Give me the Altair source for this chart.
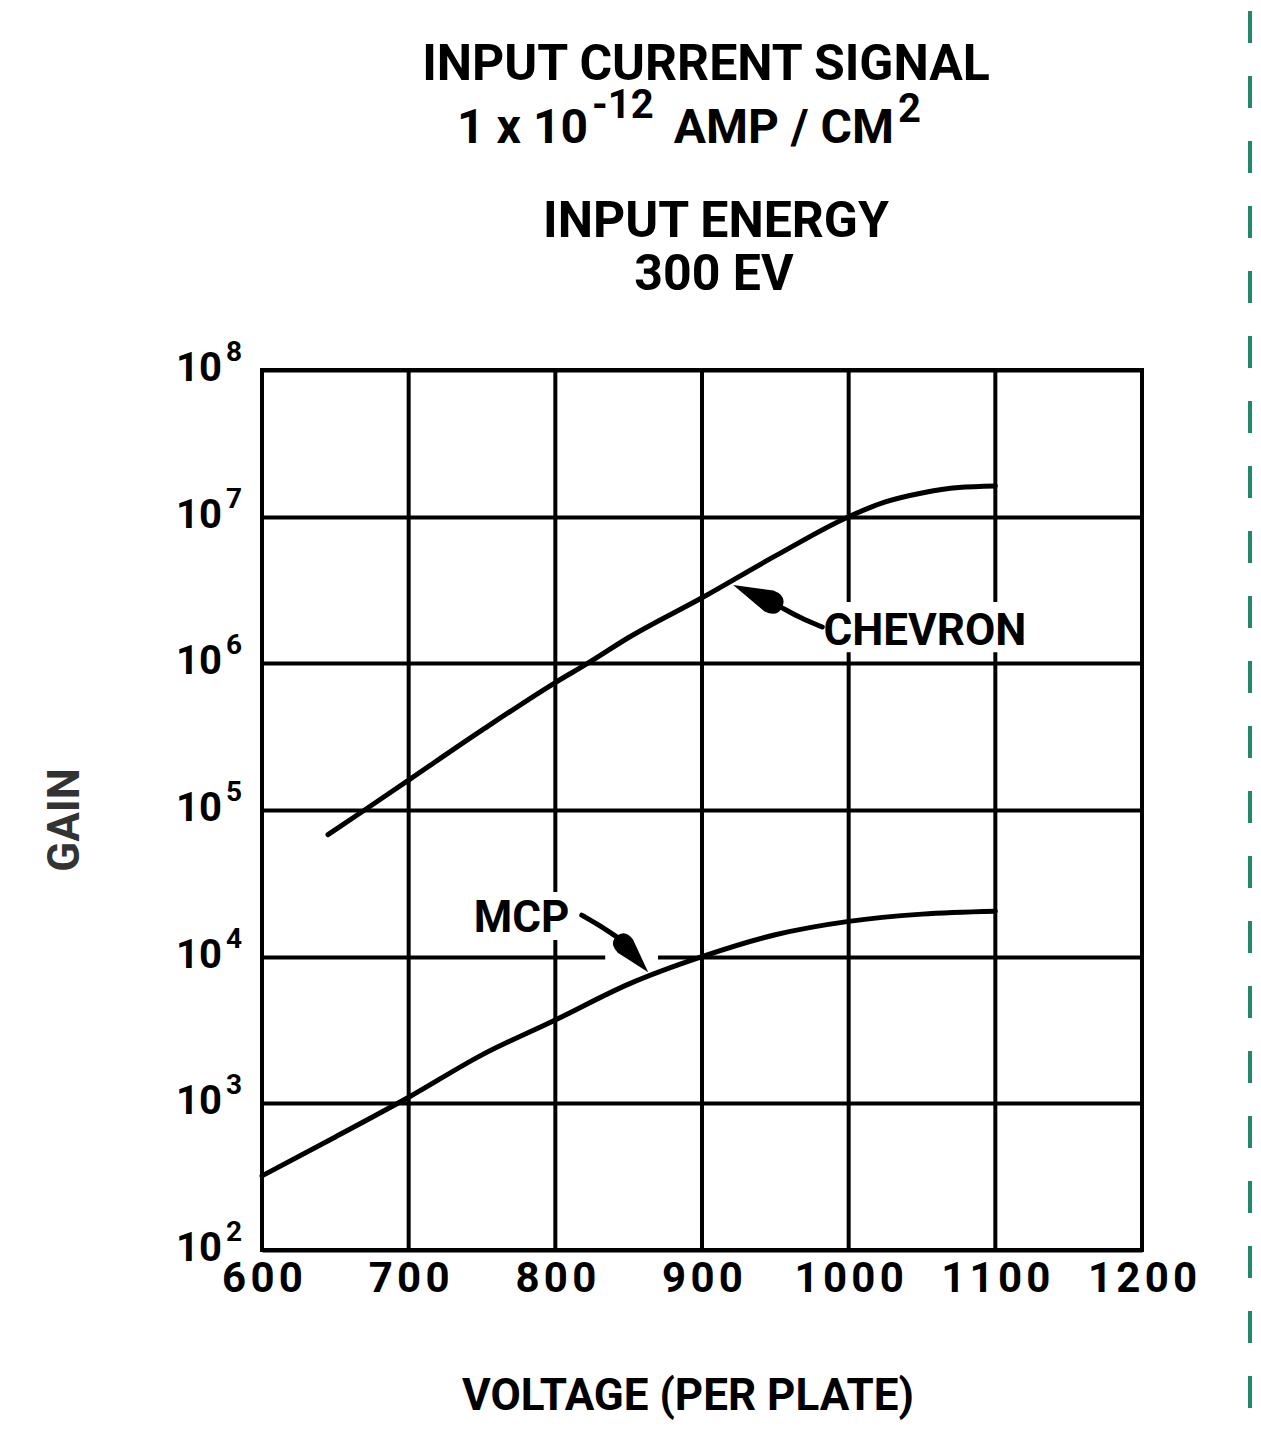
import altair as alt
import pandas as pd

# ---- data ----
chev_v = [645, 670, 700, 750, 800, 822, 850, 900, 950, 1000, 1025, 1050, 1075, 1100]
chev_g = [6.8e4, 1.0e5, 1.6e5, 3.5e5, 7.4e5, 1.0e6, 1.5e6, 2.8e6, 5.4e6, 1.0e7, 1.26e7, 1.45e7, 1.58e7, 1.62e7]
mcp_v = [600, 650, 700, 750, 800, 850, 900, 950, 1000, 1050, 1100]
mcp_g = [320, 590, 1100, 2140, 3700, 6500, 1.0e4, 1.41e4, 1.74e4, 1.95e4, 2.04e4]
x_ticks = [600, 700, 800, 900, 1000, 1100, 1200]
y_exps = [2, 3, 4, 5, 6, 7, 8]
y_gains = [10.0 ** e for e in y_exps]

# annotation geometry (data coordinates)
chev_arrow_v = [955, 967, 982]
chev_arrow_g = [2.38e6, 2.04e6, 1.77e6]
chev_head = (938, 2.88e6, 294, 2900)
mcp_arrow_v = [818, 830, 843]
mcp_arrow_g = [1.92e4, 1.64e4, 1.34e4]
mcp_head = (852.6, 1.04e4, 139, 2300)
grid_gap = (834, 870, 1.0e4)
chev_label = (1052, 1.33e6)
mcp_label = (777, 1.47e4)
knock_v1 = [982, 742]
knock_v2 = [1124, 811]
knock_g1 = [1.19e6, 1.30e4]
knock_g2 = [2.62e6, 2.76e4]

FONT = "Roboto"
TEAR = "M0,-1 L0.42,0.45 Q0.45,1 0,1 Q-0.45,1 -0.42,0.45 Z"
xs = alt.Scale(domain=[600, 1200], nice=False, zero=False)
ys = alt.Scale(type="log", domain=[1e2, 1e8], nice=False)


def X(f):
    return alt.X(f, scale=xs, title=None)


def Y(f):
    return alt.Y(f, scale=ys, title=None)


# vertical grid lines drawn as rules so that label knock-outs can cover them
vgrid = alt.Chart(pd.DataFrame({"t": x_ticks})).mark_rule(color="black", strokeWidth=4).encode(
    x=alt.X("t:Q", scale=xs, title=None, axis=alt.Axis(
        values=x_ticks, format="d", grid=False,
        labelExpr="join(split(datum.label, ''), '\u200a')")))

curves = pd.concat([
    pd.DataFrame({"v": chev_v, "g": chev_g, "s": "CHEVRON"}),
    pd.DataFrame({"v": mcp_v, "g": mcp_g, "s": "MCP"}),
])

base = alt.Chart(curves).mark_line(
    color="black", strokeWidth=5, strokeCap="round", interpolate="monotone"
).encode(
    x=X("v:Q"),
    y=alt.Y("g:Q", scale=ys, title=None, axis=alt.Axis(values=y_gains, labels=False)),
    detail="s:N",
)

gap = alt.Chart(pd.DataFrame({"v1": [grid_gap[0]], "v2": [grid_gap[1]], "g": [grid_gap[2]]})).mark_rule(
    color="white", strokeWidth=8
).encode(x=X("v1:Q"), x2="v2:Q", y=Y("g:Q"))

knock = alt.Chart(pd.DataFrame({"a1": knock_v1, "a2": knock_v2, "b1": knock_g1, "b2": knock_g2})).mark_rect(
    color="white", opacity=1
).encode(x=X("a1:Q"), x2="a2:Q", y=Y("b1:Q"), y2="b2:Q")

arrows = alt.Chart(pd.concat([
    pd.DataFrame({"v": chev_arrow_v, "g": chev_arrow_g, "a": "c"}),
    pd.DataFrame({"v": mcp_arrow_v, "g": mcp_arrow_g, "a": "m"}),
])).mark_line(color="black", strokeWidth=5, strokeCap="round", interpolate="basis").encode(
    x=X("v:Q"), y=Y("g:Q"), detail="a:N")

heads = alt.Chart(pd.DataFrame({
    "v": [chev_head[0], mcp_head[0]], "g": [chev_head[1], mcp_head[1]],
    "ang": [chev_head[2], mcp_head[2]], "sz": [chev_head[3], mcp_head[3]],
})).mark_point(shape=TEAR, filled=True, color="black", opacity=1).encode(
    x=X("v:Q"), y=Y("g:Q"),
    angle=alt.Angle("ang:Q", scale=None), size=alt.Size("sz:Q", scale=None))

names = alt.Chart(pd.DataFrame({
    "v": [chev_label[0], mcp_label[0]], "g": [chev_label[1], mcp_label[1]], "t": ["CHEVRON", "MCP"]
})).mark_text(font=FONT, fontSize=44, fontWeight="bold", color="black", align="center",
              baseline="alphabetic").encode(x=X("v:Q"), y=Y("g:Q"), text="t:N")

ydf = pd.DataFrame({"g": y_gains, "b": ["10"] * len(y_exps), "e": [str(e) for e in y_exps]})
ybase = alt.Chart(ydf).mark_text(font=FONT, fontSize=40, fontWeight="bold", color="black",
                                 align="right", baseline="alphabetic", dy=11).encode(
    x=alt.value(-40), y=Y("g:Q"), text="b:N")
yexp = alt.Chart(ydf).mark_text(font=FONT, fontSize=28, fontWeight="bold", color="black",
                                align="left", baseline="alphabetic", dy=-9).encode(
    x=alt.value(-36), y=Y("g:Q"), text="e:N")

one = pd.DataFrame({"a": [0]})


def label(t, x, y, size, align="center", color="black", angle=0, baseline="alphabetic"):
    return alt.Chart(one).mark_text(font=FONT, fontSize=size, fontWeight="bold", color=color,
                                    align=align, baseline=baseline, angle=angle).encode(
        x=alt.value(x), y=alt.value(y), text=alt.value(t))


texts = [
    label("INPUT CURRENT SIGNAL", 444, -290, 50),
    label("1 x 10", 326, -227, 48, align="right"),
    label("-12", 330, -252, 40, align="left"),
    label("AMP / CM", 632, -227, 48, align="right"),
    label("2", 636, -248, 40, align="left"),
    label("INPUT ENERGY", 454, -133, 50),
    label("300 EV", 452, -80, 50),
    label("VOLTAGE (PER PLATE)", 426, 1040, 44),
    label("GAIN", -196, 450, 44, color="#333333", angle=270, baseline="middle"),
]

green = alt.Chart(one).mark_rule(color="#22876b", strokeWidth=4, strokeDash=[32, 33]).encode(
    x=alt.value(988), y=alt.value(-359), y2=alt.value(1061))

chart = alt.layer(vgrid, base, gap, knock, arrows, heads, names, ybase, yexp, *texts, green).properties(
    width=880, height=880,
    autosize=alt.AutoSizeParams(type="none"),
    padding={"left": 254, "top": 362, "right": 111, "bottom": 173},
    background="white",
).configure_view(stroke="black", strokeWidth=4).configure_axis(
    gridColor="black", gridWidth=4, gridOpacity=1,
    domain=False, ticks=False, labelFont=FONT, labelFontSize=42,
    labelFontWeight="bold", labelColor="black", labelPadding=8,
    labelFlush=False, labelOverlap=False,
).configure_axisY(grid=True).configure_axisX(grid=False)

chart.save("out.html", embed_options={"renderer": "svg", "actions": False})
